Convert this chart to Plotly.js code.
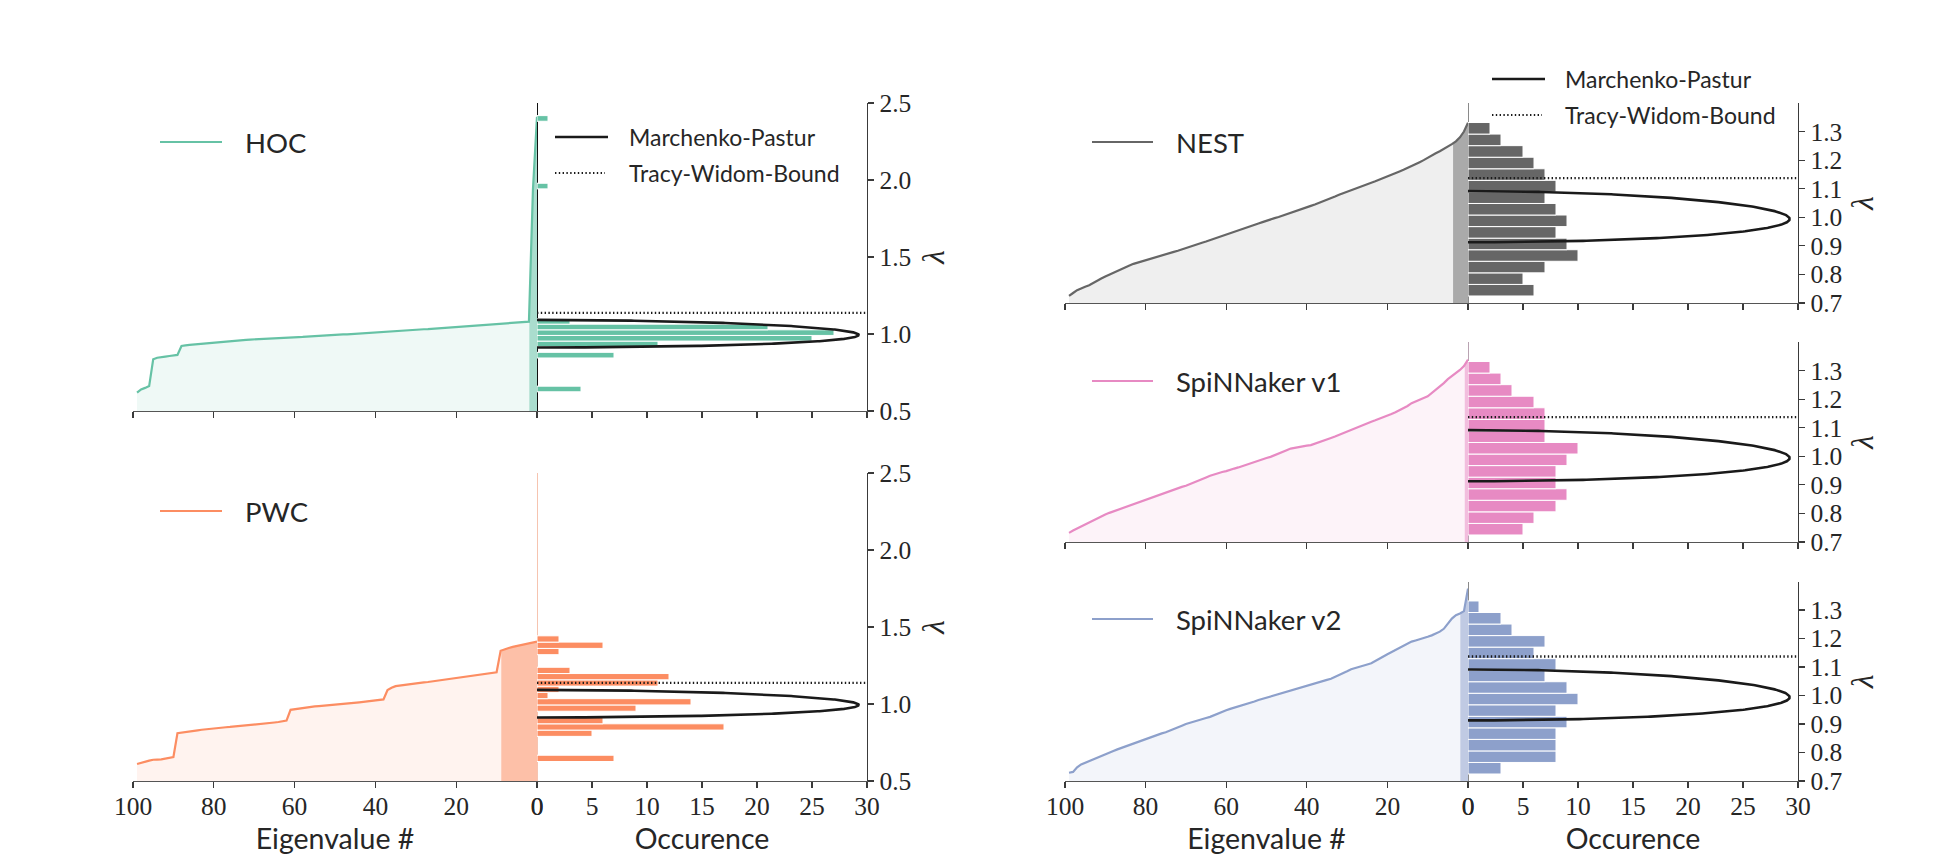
<!DOCTYPE html>
<html>
<head>
<meta charset="utf-8">
<script src="https://cdn.plot.ly/plotly-3.0.1.min.js"></script>
<style>
  html, body { margin: 0; padding: 0; background: #fff; }
  #chart { width: 1936px; height: 855px; }
</style>
</head>
<body>
<div id="chart"></div>
<script>
// Eigenvalues of each correlation matrix, sorted from largest (index 0) to smallest (index 99)
const eigIndex = Array.from({length: 100}, (_, i) => i);

const eigHOC = [
  2.410, 1.940, 1.080, 1.078, 1.076, 1.074, 1.072, 1.070, 1.068, 1.066,
  1.064, 1.061, 1.058, 1.057, 1.055, 1.054, 1.052, 1.050, 1.048, 1.046,
  1.044, 1.042, 1.041, 1.039, 1.037, 1.036, 1.034, 1.032, 1.031, 1.029,
  1.027, 1.025, 1.024, 1.022, 1.020, 1.018, 1.016, 1.013, 1.012, 1.011,
  1.009, 1.008, 1.006, 1.005, 1.003, 1.002, 1.000, 0.998, 0.997, 0.995,
  0.993, 0.991, 0.989, 0.987, 0.986, 0.985, 0.984, 0.983, 0.981, 0.980,
  0.979, 0.978, 0.977, 0.976, 0.974, 0.973, 0.971, 0.970, 0.969, 0.967,
  0.966, 0.964, 0.962, 0.960, 0.958, 0.956, 0.954, 0.952, 0.950, 0.947,
  0.944, 0.942, 0.939, 0.937, 0.935, 0.932, 0.929, 0.926, 0.922, 0.864,
  0.862, 0.857, 0.853, 0.850, 0.846, 0.836, 0.662, 0.650, 0.640, 0.619
];

const eigPWC = [
  1.405, 1.400, 1.395, 1.390, 1.385, 1.379, 1.371, 1.364, 1.356, 1.346,
  1.206, 1.202, 1.198, 1.194, 1.191, 1.187, 1.183, 1.179, 1.175, 1.171,
  1.167, 1.163, 1.160, 1.156, 1.153, 1.150, 1.147, 1.143, 1.140, 1.137,
  1.134, 1.131, 1.128, 1.125, 1.122, 1.116, 1.105, 1.090, 1.030, 1.026,
  1.023, 1.020, 1.017, 1.014, 1.011, 1.008, 1.005, 1.003, 1.000, 0.998,
  0.995, 0.993, 0.990, 0.988, 0.986, 0.984, 0.981, 0.978, 0.975, 0.972,
  0.968, 0.962, 0.892, 0.886, 0.883, 0.880, 0.877, 0.874, 0.871, 0.868,
  0.866, 0.863, 0.861, 0.858, 0.856, 0.853, 0.851, 0.849, 0.847, 0.845,
  0.843, 0.840, 0.836, 0.833, 0.829, 0.826, 0.822, 0.819, 0.815, 0.810,
  0.655, 0.650, 0.642, 0.640, 0.639, 0.638, 0.632, 0.625, 0.618, 0.610
];

const eigNEST = [
  1.331, 1.300, 1.280, 1.266, 1.256, 1.247, 1.238, 1.231, 1.224, 1.215,
  1.207, 1.200, 1.193, 1.186, 1.178, 1.172, 1.166, 1.160, 1.154, 1.148,
  1.143, 1.137, 1.131, 1.126, 1.121, 1.116, 1.110, 1.105, 1.100, 1.095,
  1.090, 1.085, 1.079, 1.073, 1.067, 1.062, 1.056, 1.050, 1.045, 1.040,
  1.035, 1.030, 1.025, 1.019, 1.014, 1.009, 1.005, 1.001, 0.997, 0.993,
  0.988, 0.983, 0.978, 0.973, 0.968, 0.964, 0.959, 0.954, 0.948, 0.943,
  0.938, 0.933, 0.928, 0.924, 0.920, 0.915, 0.911, 0.906, 0.901, 0.897,
  0.892, 0.887, 0.883, 0.879, 0.875, 0.871, 0.867, 0.863, 0.859, 0.855,
  0.851, 0.847, 0.842, 0.837, 0.831, 0.825, 0.819, 0.813, 0.807, 0.800,
  0.793, 0.786, 0.778, 0.769, 0.762, 0.757, 0.752, 0.745, 0.735, 0.725
];

const eigSpiNN1 = [
  1.338, 1.316, 1.302, 1.292, 1.282, 1.270, 1.256, 1.244, 1.232, 1.219,
  1.210, 1.204, 1.198, 1.193, 1.186, 1.176, 1.168, 1.161, 1.154, 1.148,
  1.142, 1.137, 1.131, 1.126, 1.121, 1.115, 1.109, 1.103, 1.098, 1.092,
  1.086, 1.080, 1.074, 1.069, 1.064, 1.059, 1.054, 1.048, 1.043, 1.039,
  1.037, 1.034, 1.032, 1.030, 1.027, 1.021, 1.015, 1.009, 1.003, 0.998,
  0.994, 0.989, 0.985, 0.980, 0.975, 0.970, 0.966, 0.961, 0.957, 0.952,
  0.948, 0.945, 0.941, 0.937, 0.932, 0.926, 0.920, 0.914, 0.908, 0.902,
  0.897, 0.893, 0.888, 0.884, 0.879, 0.873, 0.868, 0.863, 0.857, 0.852,
  0.848, 0.843, 0.839, 0.834, 0.829, 0.824, 0.819, 0.814, 0.809, 0.802,
  0.796, 0.789, 0.782, 0.776, 0.770, 0.761, 0.754, 0.747, 0.740, 0.732
];

const eigSpiNN2 = [
  1.375, 1.296, 1.288, 1.282, 1.270, 1.250, 1.234, 1.224, 1.217, 1.211,
  1.206, 1.201, 1.197, 1.193, 1.189, 1.182, 1.175, 1.168, 1.161, 1.154,
  1.145, 1.137, 1.128, 1.120, 1.113, 1.109, 1.105, 1.101, 1.097, 1.092,
  1.085, 1.078, 1.072, 1.065, 1.059, 1.055, 1.051, 1.047, 1.043, 1.039,
  1.035, 1.031, 1.026, 1.022, 1.018, 1.014, 1.010, 1.005, 1.001, 0.997,
  0.993, 0.988, 0.984, 0.979, 0.975, 0.971, 0.966, 0.962, 0.958, 0.953,
  0.948, 0.942, 0.936, 0.930, 0.925, 0.921, 0.917, 0.914, 0.910, 0.906,
  0.900, 0.894, 0.888, 0.881, 0.876, 0.871, 0.867, 0.862, 0.858, 0.853,
  0.848, 0.843, 0.837, 0.831, 0.826, 0.821, 0.816, 0.811, 0.805, 0.799,
  0.793, 0.787, 0.781, 0.776, 0.770, 0.764, 0.758, 0.748, 0.732, 0.729
];

// Histogram bins: lower edge, bin width and counts per bin (low to high)
const hocBinLo = 0.6247, hocBinW = 0.0366;
const hocCounts = [
  4, 0, 0, 0, 0, 0, 7, 0, 11, 25,
  27, 21, 3, 0, 0, 0, 0, 0, 0, 0,
  0, 0, 0, 0, 0, 0, 0, 0, 0, 0,
  0, 0, 0, 0, 0, 0, 1, 0, 0, 0,
  0, 0, 0, 0, 0, 0, 0, 0, 1, 0
];
const pwcBinLo = 0.6266, pwcBinW = 0.0408;
const pwcCounts = [7, 0, 0, 0, 5, 17, 6, 0, 9, 14, 1, 2, 11, 12, 3, 0, 0, 2, 6, 2];
const hwBinLo = 0.7246, hwBinW = 0.04047;
const nestCounts   = [6, 5, 7, 10, 9, 8, 9, 8, 7, 8, 7, 6, 5, 3, 2];
const spinn1Counts = [5, 6, 8, 9, 8, 8, 9, 10, 7, 7, 7, 6, 4, 3, 2];
const spinn2Counts = [3, 8, 8, 8, 9, 8, 10, 9, 7, 8, 6, 7, 4, 3, 1];

// Eigenvalue index below which the curve area is shaded darker
const bandEdges = [1.9, 8.84, 3.7, 0.8, 1.9];

// Random-matrix references
const mpRatio = 0.002;      // N/T ratio of the Marchenko-Pastur law
const mpScale = 4.1;        // density -> occurrence scaling
const twBound = 1.137;      // Tracy-Widom bound

const seriesNames = ['HOC', 'PWC', 'NEST', 'SpiNNaker v1', 'SpiNNaker v2'];
const refNames = ['Marchenko-Pastur', 'Tracy-Widom-Bound'];
const seriesColors = ['#66c2a5', '#fc8d62', '#666666', '#e78ac3', '#8da0cb'];
const lightFills = ['rgba(102,194,165,0.10)', 'rgba(252,141,98,0.10)', 'rgba(102,102,102,0.10)', 'rgba(231,138,195,0.10)', 'rgba(141,160,203,0.10)'];
const bandFills  = ['rgba(102,194,165,0.50)', 'rgba(252,141,98,0.50)', 'rgba(102,102,102,0.50)', 'rgba(231,138,195,0.50)', 'rgba(141,160,203,0.50)'];
const zeroLineColors = ['#111111', '#f6c4b0', '#8a8a8a', '#b9a3b2', '#8a8a8a'];

const eigData = [eigHOC, eigPWC, eigNEST, eigSpiNN1, eigSpiNN2];
const binDefs = [
  [hocBinLo, hocBinW, hocCounts],
  [pwcBinLo, pwcBinW, pwcCounts],
  [hwBinLo, hwBinW, nestCounts],
  [hwBinLo, hwBinW, spinn1Counts],
  [hwBinLo, hwBinW, spinn2Counts]
];

// ---- page geometry (pixels) ----
const W = 1936, H = 855;
const fx = p => p / W;
const fy = p => 1 - p / H;
const colEig  = [[133, 537], [133, 537], [1065, 1468], [1065, 1468], [1065, 1468]];
const colHist = [[537, 867], [537, 867], [1468, 1798], [1468, 1798], [1468, 1798]];
const rowsPx  = [[103, 411], [473, 781], [103, 303], [342, 542], [581.5, 781]];
const yRanges = [[0.5, 2.5], [0.5, 2.5], [0.7, 1.4], [0.7, 1.4], [0.7, 1.4]];
const yTicks  = [[0.5, 1.0, 1.5, 2.0, 2.5], [0.5, 1.0, 1.5, 2.0, 2.5],
                 [0.7, 0.8, 0.9, 1.0, 1.1, 1.2, 1.3], [0.7, 0.8, 0.9, 1.0, 1.1, 1.2, 1.3],
                 [0.7, 0.8, 0.9, 1.0, 1.1, 1.2, 1.3]];
const bottomRow = [false, true, false, false, true];
const lambdaStandoff = [12, 12, 9, 9, 9];
// legend keys: [line start, line end, text start, centre y]
const seriesKeyPx = [[160, 222, 243, 142], [160, 222, 243, 511], [1092, 1153, 1174, 142],
                     [1092, 1153, 1174, 381], [1092, 1153, 1174, 619]];
const refKeyPx = [
  [[555, 608, 627, 137], [555, 605, 627, 173]],
  [[1492, 1545, 1563, 79], [1492, 1542, 1563, 115]]
];

const SANS = 'Lato';
const SERIF = 'Liberation Serif';
const INK = '#262626';
const AXIS = '#3a3a3a';
const TW_DASH = '1.4px,2.4px';

function mpCurve(q, scale) {
  const lp = Math.pow(1 + Math.sqrt(q), 2), lm = Math.pow(1 - Math.sqrt(q), 2);
  const xs = [], ys = [];
  for (let i = 0; i <= 300; i++) {
    const t = Math.PI * i / 300;
    const l = (lp + lm) / 2 + (lp - lm) / 2 * Math.cos(t);
    const d = Math.sqrt(Math.max(0, (lp - l) * (l - lm))) / (2 * Math.PI * q * l);
    xs.push(d * scale); ys.push(l);
  }
  return {xs, ys};
}
const mp = mpCurve(mpRatio, mpScale);

const traces = [];
const shapes = [];
const annotations = [];
const layout = {
  width: W, height: H,
  margin: {l: 0, r: 0, t: 0, b: 0},
  paper_bgcolor: '#ffffff', plot_bgcolor: 'rgba(0,0,0,0)',
  bargap: 0, barmode: 'overlay', showlegend: false,
  font: {family: SANS, color: INK}
};

const sfx = n => (n === 1 ? '' : String(n));

function legendKey(k, label, line, size) {
  shapes.push({type: 'line', xref: 'paper', yref: 'paper',
    x0: fx(k[0]), x1: fx(k[1]), y0: fy(k[3]), y1: fy(k[3]), line: line});
  annotations.push({xref: 'paper', yref: 'paper', x: fx(k[2]), y: fy(k[3]),
    xanchor: 'left', yanchor: 'middle', showarrow: false, text: label,
    font: {family: SANS, size: size, color: INK}});
}

for (let p = 0; p < 5; p++) {
  const e = 2 * p + 1, h = 2 * p + 2;
  const vals = eigData[p];
  const yr = yRanges[p];
  const ydom = [fy(rowsPx[p][1]), fy(rowsPx[p][0])];

  // light area below the eigenvalue curve
  traces.push({
    x: eigIndex, y: vals, type: 'scatter', mode: 'lines', fill: 'tozeroy',
    fillcolor: lightFills[p], line: {width: 0}, hoverinfo: 'skip',
    xaxis: 'x' + sfx(e), yaxis: 'y' + sfx(e)
  });
  // darker shading for the leading eigenvalues
  const edge = bandEdges[p];
  const f = Math.floor(edge);
  const bx = [edge], by = [vals[f] + (vals[f + 1] - vals[f]) * (edge - f)];
  for (let k = f; k >= 0; k--) { bx.push(eigIndex[k]); by.push(vals[k]); }
  traces.push({
    x: bx, y: by, type: 'scatter', mode: 'lines', fill: 'tozeroy',
    fillcolor: bandFills[p], line: {width: 0}, hoverinfo: 'skip',
    xaxis: 'x' + sfx(e), yaxis: 'y' + sfx(e)
  });
  // the eigenvalue curve itself
  traces.push({
    x: eigIndex, y: vals, type: 'scatter', mode: 'lines', name: seriesNames[p],
    line: {color: seriesColors[p], width: 2.2},
    xaxis: 'x' + sfx(e), yaxis: 'y' + sfx(e)
  });

  // histogram of eigenvalues
  const [lo, bw, counts] = binDefs[p];
  const cy = [], cx = [];
  counts.forEach((c, k) => { if (c > 0) { cy.push(lo + (k + 0.5) * bw); cx.push(c); } });
  traces.push({
    type: 'bar', orientation: 'h', x: cx, y: cy, width: bw, name: seriesNames[p],
    marker: {color: seriesColors[p], line: {color: '#ffffff', width: 1}},
    xaxis: 'x' + sfx(h), yaxis: 'y' + sfx(h)
  });

  traces.push({
    x: mp.xs, y: mp.ys, type: 'scatter', mode: 'lines', name: refNames[0],
    line: {color: '#1a1a1a', width: 2.6},
    xaxis: 'x' + sfx(h), yaxis: 'y' + sfx(h)
  });
  traces.push({
    x: [0, 30], y: [twBound, twBound], type: 'scatter', mode: 'lines', name: refNames[1],
    line: {color: '#1a1a1a', width: 2.4, dash: TW_DASH},
    xaxis: 'x' + sfx(h), yaxis: 'y' + sfx(h)
  });

  const tickFont = () => ({family: SERIF, size: 25.5, color: INK});
  const titleFont = () => ({family: SANS, size: 28.5, color: INK});
  layout['xaxis' + sfx(e)] = {
    domain: [fx(colEig[p][0]), fx(colEig[p][1])], anchor: 'y' + sfx(e),
    range: [100, 0], tickvals: [0, 20, 40, 60, 80, 100], ticks: 'outside', ticklen: 6,
    tickwidth: 1.2, tickcolor: AXIS, showline: true, linecolor: '#555555', linewidth: 1.3,
    showgrid: false, zeroline: false, showticklabels: bottomRow[p], tickfont: tickFont(),
    ticklabelstandoff: -4,
    title: bottomRow[p] ? {text: 'Eigenvalue #', font: titleFont(), standoff: 8} : {text: ''}
  };
  layout['yaxis' + sfx(e)] = {
    domain: ydom, anchor: 'x' + sfx(e), range: yr, side: 'right',
    showline: true, linecolor: zeroLineColors[p], linewidth: 1.1,
    ticks: '', showticklabels: false, showgrid: false, zeroline: false, layer: 'below traces'
  };
  layout['xaxis' + sfx(h)] = {
    domain: [fx(colHist[p][0]), fx(colHist[p][1])], anchor: 'y' + sfx(h),
    range: [0, 30], tick0: 0, dtick: 5, ticks: 'outside', ticklen: 6,
    tickwidth: 1.2, tickcolor: AXIS, showline: true, linecolor: '#555555', linewidth: 1.3,
    showgrid: false, zeroline: false, showticklabels: bottomRow[p], tickfont: tickFont(),
    ticklabelstandoff: -4,
    title: bottomRow[p] ? {text: 'Occurence', font: titleFont(), standoff: 8} : {text: ''}
  };
  layout['yaxis' + sfx(h)] = {
    domain: ydom, anchor: 'x' + sfx(h), range: yr, side: 'right',
    tickvals: yTicks[p], tickformat: '.1f', ticks: 'outside', ticklen: 6, tickwidth: 1.2,
    tickcolor: AXIS, showline: true, linecolor: AXIS, linewidth: 1.3,
    showgrid: false, zeroline: false, tickfont: tickFont(),
    title: {text: 'λ', font: {family: SERIF, size: 31, color: INK, style: 'italic'}, standoff: lambdaStandoff[p]}
  };

  legendKey(seriesKeyPx[p], seriesNames[p], {color: seriesColors[p], width: 2.2}, 27.5);
}

refKeyPx.forEach(keys => {
  legendKey(keys[0], refNames[0], {color: '#1a1a1a', width: 2.6}, 23);
  legendKey(keys[1], refNames[1], {color: '#1a1a1a', width: 2.2, dash: TW_DASH}, 23);
});

layout.shapes = shapes;
layout.annotations = annotations;

Plotly.newPlot('chart', traces, layout, {displayModeBar: false, staticPlot: true});
</script>
</body>
</html>
